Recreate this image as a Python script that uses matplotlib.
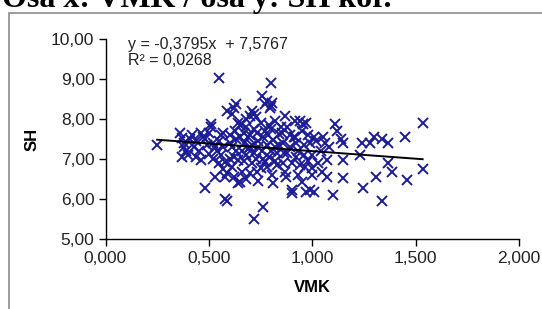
import matplotlib
matplotlib.use("Agg")
import matplotlib.pyplot as plt
from matplotlib import patches
from matplotlib.ticker import FuncFormatter

# data
vmk = [0.25, 0.55, 0.80, 0.36, 0.37, 0.38, 0.37, 0.39, 0.40,
       0.43, 0.44, 0.46, 0.46, 0.47, 0.48, 0.49, 0.50,
       0.51, 0.51, 0.52, 0.53, 0.54, 0.55, 0.55, 0.56,
       0.57, 0.58, 0.58, 0.58, 0.59, 0.59, 0.59, 0.60, 0.61, 0.61, 0.62, 0.62,
       0.625, 0.63, 0.63, 0.64, 0.64, 0.65, 0.65, 0.66, 0.66, 0.66, 0.67, 0.67,
       0.68, 0.68, 0.69, 0.70, 0.70, 0.70, 0.71, 0.71, 0.71, 0.72, 0.72, 0.72,
       0.73, 0.735, 0.735, 0.74, 0.75, 0.75, 0.755, 0.756, 0.76, 0.76, 0.77, 0.77,
       0.78, 0.78, 0.785, 0.79, 0.795, 0.80, 0.80, 0.805, 0.805, 0.81, 0.81,
       0.82, 0.82, 0.83, 0.83, 0.84, 0.855, 0.86, 0.865, 0.87, 0.87, 0.875, 0.88,
       0.89, 0.90, 0.90, 0.90, 0.91, 0.915, 0.915, 0.92, 0.93, 0.93, 0.94, 0.95,
       0.955, 0.96, 0.965, 0.97, 0.97, 0.98, 0.99, 1.00, 1.00, 1.00, 1.01, 1.01,
       1.02, 1.03, 1.045, 1.06, 1.07, 1.07, 1.10, 1.11, 1.12, 1.14, 1.148, 1.148,
       1.148, 1.23, 1.24, 1.245, 1.28, 1.30, 1.31, 1.336, 1.336, 1.365, 1.365,
       1.384, 1.447, 1.456, 1.534, 1.534,
       0.42, 0.45, 0.48, 0.50, 0.52, 0.53, 0.56, 0.57, 0.60, 0.61, 0.63, 0.64,
       0.65, 0.67, 0.68, 0.69, 0.70, 0.72, 0.73, 0.74, 0.76, 0.77, 0.78, 0.79,
       0.80, 0.82, 0.84, 0.85, 0.86, 0.88, 0.89, 0.92, 0.94, 0.96, 0.98, 0.38,
       0.44, 0.41, 1.04, 1.08, 1.05, 0.99, 0.95, 0.62, 0.68, 0.74, 0.57, 0.60]
sh = [7.35, 9.03, 8.90, 7.66, 7.52, 7.40, 7.04, 7.20, 7.10,
      7.29, 7.45, 7.66, 6.97, 7.55, 6.27, 7.34, 7.12,
      7.88, 7.79, 7.01, 6.55, 7.21, 6.89, 7.45, 7.60,
      7.66, 6.92, 6.55, 6.00, 5.95, 8.20, 6.64, 7.40, 8.13, 7.29, 8.28, 7.05,
      7.71, 8.38, 7.50, 6.97, 6.39, 6.42, 7.85, 7.88, 7.21, 6.67, 7.64, 7.40,
      8.00, 7.10, 7.55, 8.08, 6.64, 7.30, 8.20, 7.34, 6.89, 8.13, 5.50, 7.75,
      7.00, 7.66, 6.67, 7.45, 6.77, 7.90, 7.21, 8.58, 5.80, 7.55, 8.38, 6.92,
      8.46, 7.35, 7.59, 7.05, 8.28, 8.33, 7.75, 8.41, 6.59, 6.39, 7.48,
      7.29, 7.95, 6.84, 7.15, 7.62, 7.64, 7.40, 7.14, 8.08, 6.67, 6.55, 7.80,
      7.30, 6.89, 6.14, 6.22, 7.55, 7.96, 7.54, 7.05, 7.21, 6.59, 7.96, 6.42,
      7.88, 7.35, 6.79, 7.91, 6.17, 7.60, 6.22, 7.09, 6.59, 6.77, 7.54, 6.17,
      7.46, 6.89, 6.67, 7.41, 6.97, 6.55, 6.09, 7.88, 7.71, 7.51, 7.39, 6.97,
      6.52, 7.09, 7.41, 6.27, 7.39, 7.54, 6.55, 7.51, 5.95, 7.39, 6.89,
      6.67, 7.54, 6.47, 7.91, 6.74,
      7.60, 7.20, 7.50, 7.65, 7.40, 7.30, 7.10, 7.30, 7.60, 6.80, 7.20, 7.90,
      7.55, 6.95, 7.80, 7.25, 7.60, 7.15, 8.05, 7.30, 7.00, 7.70, 6.80, 7.85,
      7.20, 6.95, 7.35, 7.80, 6.90, 7.15, 7.60, 7.40, 6.85, 7.10, 6.95, 7.30,
      7.05, 7.50, 7.20, 7.30, 7.55, 7.40, 7.70, 6.55, 6.50, 6.45, 6.75, 7.00]

slope = -0.3795
intercept = 7.5767
r2 = 0.0268

def comma(fmt):
    return FuncFormatter(lambda v, pos: fmt.format(v).replace(".", ","))

fig = plt.figure(figsize=(5.42, 3.09), dpi=100)
plt.rcParams['font.family'] = ['Liberation Sans', 'DejaVu Sans']

# grey chart frame, runs off the right and bottom edges
fig.patches.append(patches.Rectangle((9 / 542, -0.1), 1.1, 1 - 13 / 309 + 0.1,
                                     transform=fig.transFigure, fill=False,
                                     edgecolor='#8c8c8c', linewidth=1.2))

# title is cut by the top edge, as in the source screenshot
fig.text(2 / 542, 1 - 7 / 309, "Osa x: VMK / osa y: SH kor.", family='Liberation Serif',
         fontweight='bold', fontsize=23, va='baseline', ha='left')

ax = fig.add_axes([105.5 / 542, 70 / 309, 413.5 / 542, 200 / 309])
ax.plot(vmk, sh, linestyle='none', marker='x', markersize=7.5, markeredgewidth=1.4,
        color='#1c1c96')

x0, x1 = min(vmk), max(vmk)
ax.plot([x0, x1], [slope * x0 + intercept, slope * x1 + intercept], color='black', linewidth=1.4)

ax.set_xlim(0, 2)
ax.set_ylim(5, 10)
ax.set_xticks([0, 0.5, 1.0, 1.5, 2.0])
ax.set_yticks([5, 6, 7, 8, 9, 10])
ax.xaxis.set_major_formatter(comma("{:.3f}"))
ax.yaxis.set_major_formatter(comma("{:.2f}"))
for s in ['top', 'right']:
    ax.spines[s].set_visible(False)
for s in ['left', 'bottom']:
    ax.spines[s].set_linewidth(1.0)
ax.tick_params(direction='out', length=5, width=1.0, labelsize=12.5, labelcolor='#222222')
ax.tick_params(axis='y', pad=3)
ax.set_xlabel("VMK", fontweight='bold', fontsize=12, labelpad=10)
ax.set_ylabel("SH", fontweight='bold', fontsize=12, labelpad=8)

ax.text(0.11, 9.66, "y = -0,3795x  + 7,5767\nR² = 0,0268", fontsize=11.5,
        color='#222222', va='center', linespacing=1.05)

fig.savefig("out.png", dpi=100)
